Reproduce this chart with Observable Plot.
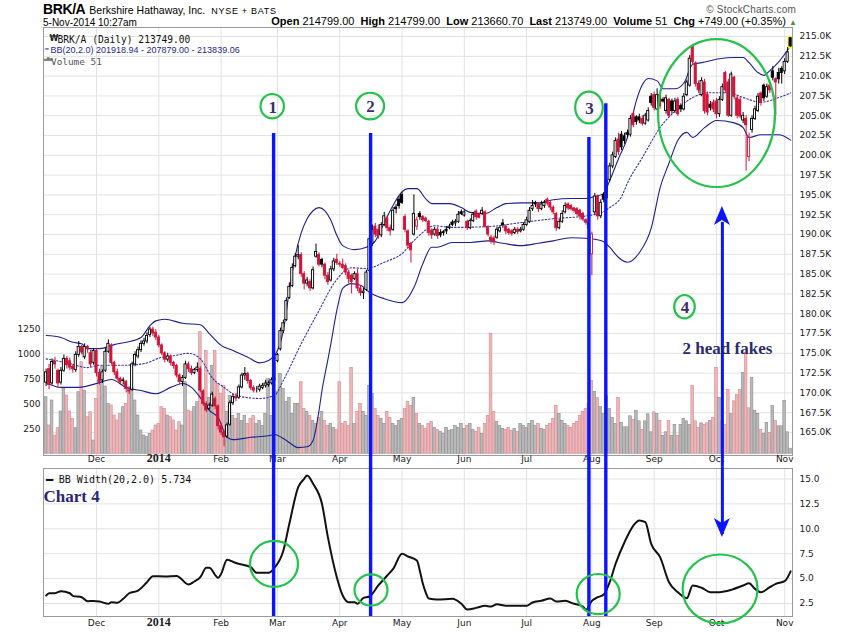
<!DOCTYPE html>
<html><head><meta charset="utf-8">
<script src="https://cdn.jsdelivr.net/npm/d3@7"></script>
<script src="https://cdn.jsdelivr.net/npm/@observablehq/plot@0.6"></script>
<style>
body{margin:0;background:#fff;width:850px;height:633px;overflow:hidden;font-family:"Liberation Sans",Arial,sans-serif;color:#000}
#hdr{position:relative;height:26px;width:850px;z-index:2}
#hdr div{position:absolute;white-space:nowrap}
.t1{left:43px;top:3px;font-size:14px;line-height:13px}
.t1 .sym{font-weight:bold;letter-spacing:-0.4px}
.t1 .nm{font-size:10.5px;margin-left:4px}
.t1 .ex{font-size:9px;letter-spacing:0.7px;margin-left:6px}
.cp{right:54px;top:5px;font-size:10px;line-height:10px;color:#555;letter-spacing:0.2px}
.dt{left:43px;top:18px;font-size:10px;line-height:9px}
.q{right:53px;top:17px;font-size:11px;line-height:9.5px}
.q .tri{color:#3f9a46;font-size:8px}
#price{position:relative;width:850px;height:441px}
#price svg{position:absolute;left:0;top:0}
#lower{width:850px;height:166px}
</style></head><body>
<div id="hdr">
 <div class="t1"><span class="sym">BRK/A</span><span class="nm">Berkshire Hathaway, Inc.</span><span class="ex">NYSE + BATS</span></div>
 <div class="cp">© StockCharts.com</div>
 <div class="dt">5-Nov-2014 10:27am</div>
 <div class="q"><b>Open</b> 214799.00&nbsp; <b>High</b> 214799.00&nbsp; <b>Low</b> 213660.70&nbsp; <b>Last</b> 213749.00&nbsp; <b>Volume</b> 51&nbsp; <b>Chg</b> +749.00 (+0.35%) <span class="tri">▲</span></div>
</div>
<div id="price"></div>
<div id="lower"></div>
<script>
// ---------- daily OHLC (thousands of $), Nov 6 2013 .. Nov 5 2014 ----------
const opens = [
171.3,173.0,171.2,173.9,172.8,171.3,172.8,174.3,174.0,173.3,172.9,174.8,175.8,174.5,175.8,175.0,173.8,
175.3,172.5,171.6,172.8,175.2,176.0,173.8,172.6,171.8,171.5,171.4,170.3,170.4,173.6,174.6,175.4,176.2,176.5,177.3,178.0,177.6,
177.0,176.0,175.0,174.2,174.6,173.8,173.4,172.2,171.4,171.9,173.6,173.0,172.5,172.9,173.0,170.2,168.6,168.0,168.4,169.2,168.3,
165.8,165.0,164.5,166.0,168.7,169.5,169.4,170.7,172.2,172.4,171.5,170.6,170.4,170.4,170.6,170.9,171.0,171.2,171.6,
174.0,175.5,177.8,179.2,182.0,183.5,186.0,187.2,187.4,185.0,183.8,184.0,183.2,187.2,187.4,186.8,186.2,184.8,184.2,185.6,186.8,
186.3,186.2,186.0,185.2,184.8,184.4,185.0,183.2,182.6,183.0,185.4,188.8,191.0,190.6,189.9,191.2,192.0,190.8,190.6,193.4,194.4,
195.0,192.2,190.4,188.8,190.0,191.0,192.6,192.2,192.0,191.6,190.5,190.0,190.6,190.2,190.3,190.6,190.8,191.5,191.4,191.6,192.8,
192.4,191.6,190.8,191.7,192.9,192.5,192.6,192.8,190.9,189.6,189.5,189.6,190.4,191.4,191.0,190.6,190.4,190.2,190.6,190.4,190.6,
191.2,191.6,193.2,194.0,193.8,193.2,193.6,194.4,194.0,193.4,192.6,190.8,191.6,192.8,193.8,193.6,193.3,193.2,193.0,192.6,191.8,191.5,
187.5,192.8,194.8,192.3,195.0,194.6,196.9,198.6,199.8,202.0,202.6,202.4,202.8,202.6,205.2,204.8,204.8,204.6,204.0,204.4,207.4,
207.6,205.8,207.6,207.0,205.6,207.0,206.8,205.6,207.0,206.2,205.8,207.6,208.8,213.8,211.6,209.0,207.6,209.2,207.6,206.4,206.6,
206.8,205.2,207.0,210.4,209.2,205.0,209.8,207.2,207.0,204.4,204.6,199.8,203.2,204.6,205.6,207.8,208.8,207.4,208.8,210.6,209.6,210.4,210.9,
210.6,211.8,214.799];
const highs = [
173.0,173.6,174.3,174.5,173.0,173.2,174.8,174.6,174.4,173.6,175.2,176.5,176.0,176.2,176.0,175.4,175.6,
175.5,173.0,172.9,175.6,176.7,176.2,174.0,173.0,172.0,171.9,171.6,170.8,173.9,175.2,175.8,176.6,176.9,177.6,178.3,178.3,178.0,
177.3,176.2,175.2,175.0,174.8,174.0,173.6,172.4,172.2,174.0,173.9,173.4,173.1,173.8,173.3,170.4,168.9,168.7,170.1,169.5,168.5,
166.2,165.3,166.2,169.0,169.8,169.9,171.0,172.5,173.2,172.6,171.7,170.9,170.8,171.1,171.2,171.6,171.5,171.9,174.4,
175.0,178.2,179.2,182.0,183.9,186.3,187.6,188.6,187.7,185.3,184.6,184.3,185.9,188.8,187.7,187.0,186.4,185.2,186.0,187.0,187.5,
186.6,186.9,186.3,185.5,185.0,185.3,185.6,183.5,183.2,185.5,189.8,191.2,191.4,191.2,191.5,192.8,192.3,191.2,193.4,193.8,194.8,
195.3,192.5,190.6,189.0,195.0,192.2,192.9,192.4,192.2,191.8,190.7,190.9,190.9,190.6,190.5,191.0,191.3,191.8,191.9,192.9,193.1,
193.0,191.8,192.0,192.8,193.1,192.7,193.4,193.0,191.1,189.9,189.8,190.9,191.1,191.9,191.2,190.8,190.6,190.9,190.9,190.9,191.5,
192.2,193.4,194.3,194.2,194.0,194.2,194.3,194.6,194.2,193.6,192.8,191.9,193.0,194.0,194.0,193.8,193.4,193.4,193.2,192.8,192.0,191.8,
190.3,195.2,195.0,194.4,195.3,197.2,199.0,200.4,202.2,202.8,203.0,202.8,203.2,205.0,205.6,205.0,205.2,205.0,205.3,206.0,207.8,
208.0,208.4,207.9,207.3,207.6,207.2,207.1,207.2,207.3,206.5,207.8,209.5,212.6,214.0,211.8,209.4,209.8,209.6,208.0,206.8,207.0,
207.2,207.4,209.0,210.6,209.6,210.5,210.0,207.5,207.3,205.4,205.0,202.8,205.0,206.2,207.8,208.0,209.0,209.0,209.0,211.2,209.8,211.0,211.2,
212.2,213.6,214.799];
const lows = [
170.8,170.4,171.0,173.0,170.6,171.0,172.6,173.0,172.8,172.5,172.6,174.5,174.8,174.2,175.0,173.2,173.5,
172.0,171.0,171.2,172.6,175.0,173.5,172.2,171.5,171.0,171.0,170.0,169.8,170.2,173.3,174.3,175.1,175.9,176.2,177.0,177.1,176.6,
175.7,174.7,173.8,173.9,173.4,173.0,171.9,171.0,170.8,171.7,172.6,172.2,172.3,172.6,170.0,168.3,167.5,167.8,168.2,167.9,165.3,
164.6,163.2,164.3,165.8,168.4,168.9,169.2,170.5,171.6,171.1,170.3,170.0,170.0,170.1,170.4,170.6,170.7,171.0,171.5,
173.8,175.3,177.5,179.0,181.8,183.3,185.8,186.8,184.6,183.0,183.4,182.8,183.0,187.0,185.9,185.8,184.3,183.6,184.0,185.3,186.1,
185.9,185.6,184.8,183.8,182.5,184.2,182.8,182.2,181.8,182.8,185.2,188.5,189.6,189.4,189.6,191.0,190.4,189.8,190.4,192.6,193.2,
193.8,190.2,188.2,186.4,189.8,190.5,191.8,191.5,191.5,189.8,189.4,189.8,189.4,189.6,189.8,190.0,190.6,191.0,191.0,191.4,192.4,
192.2,190.5,190.6,191.5,191.8,192.0,192.4,190.8,189.7,188.8,188.6,189.4,190.2,190.8,190.0,189.9,189.8,190.0,190.0,190.2,190.4,
191.0,191.4,192.9,193.4,192.8,193.0,193.3,193.6,193.0,192.5,190.4,190.6,191.4,192.6,193.0,193.0,192.7,192.3,191.8,191.6,191.2,190.4,
184.8,192.5,191.8,192.0,194.0,194.4,196.6,198.3,199.6,200.0,200.6,201.4,202.2,202.3,203.5,203.8,204.0,203.7,203.8,204.2,206.2,
205.6,205.6,205.8,206.6,205.2,204.8,205.2,205.3,204.9,205.4,205.6,207.4,208.6,211.4,208.6,207.8,207.4,205.2,205.0,205.6,205.4,
204.6,204.8,206.8,207.8,204.8,204.8,207.0,204.6,204.6,204.0,198.0,199.2,202.8,204.4,205.4,206.2,206.8,207.2,207.8,209.4,205.0,209.0,209.0,
210.2,211.6,213.6607];
const closes = [
172.6,171.0,173.9,173.6,171.2,172.8,174.3,173.5,173.2,173.0,174.8,175.8,175.1,175.8,175.5,173.6,175.3,
172.5,171.4,172.6,175.2,176.2,173.8,172.6,171.8,171.3,171.6,170.5,170.2,173.6,174.8,175.4,176.2,176.5,177.2,178.0,177.5,177.0,
176.0,175.0,174.2,174.6,173.8,173.4,172.2,171.4,171.9,173.6,173.0,172.5,172.9,173.2,170.3,168.6,167.8,168.4,169.8,168.3,165.8,
165.0,164.4,165.9,168.7,169.5,169.3,170.7,172.2,172.4,171.5,170.6,170.3,170.4,170.8,170.9,171.2,171.2,171.6,173.8,
174.8,177.8,178.8,181.6,183.4,185.8,187.2,187.4,185.0,183.8,184.2,183.2,185.5,187.8,186.2,186.2,184.8,184.0,185.6,186.6,186.4,
186.2,185.8,185.2,184.4,184.0,185.0,183.2,182.6,182.8,185.2,189.4,190.6,190.0,189.8,191.2,192.3,190.8,190.4,193.0,193.2,193.6,
194.0,190.6,188.6,188.0,192.6,191.8,192.2,191.8,191.7,190.2,189.9,190.6,189.8,189.9,190.2,190.4,191.0,191.2,191.6,192.5,192.6,
192.8,190.8,191.7,192.5,192.2,192.1,193.0,191.0,190.0,189.2,189.0,190.6,190.8,191.2,190.4,190.2,190.1,190.6,190.3,190.6,191.2,
191.8,193.0,193.6,193.8,193.2,193.8,194.0,193.9,193.4,192.8,190.8,191.6,192.6,193.6,193.3,193.2,193.0,192.6,192.3,191.9,191.5,190.8,
190.0,194.8,192.3,194.0,194.4,196.8,198.6,200.0,201.8,200.4,201.0,201.8,202.6,204.6,203.8,204.2,204.4,204.0,205.0,205.6,206.6,
206.0,207.6,206.2,206.8,207.2,205.0,205.6,206.8,205.2,205.8,207.4,209.2,212.2,211.8,209.0,208.2,209.4,205.6,205.4,206.0,205.8,
205.2,207.0,208.6,208.2,205.0,210.2,207.4,205.0,204.9,205.0,203.8,202.2,204.6,205.8,207.4,206.6,207.2,208.6,208.2,209.8,209.2,209.6,210.4,
211.8,213.0,213.749];
const volumes = [
566,283,533,183,256,423,650,583,423,350,256,616,916,633,366,416,133,
550,733,866,673,500,483,383,333,400,466,500,650,666,533,383,233,183,166,200,233,283,
300,466,450,383,366,333,233,316,283,716,433,416,466,516,1216,520,1030,560,880,1030,700,
600,680,420,580,380,350,400,330,380,300,350,380,300,330,280,400,750,380,750,
620,800,650,520,560,400,500,500,716,450,420,380,330,300,360,420,330,280,300,260,240,
716,300,320,280,860,300,420,500,420,380,680,600,450,380,350,300,420,360,300,280,330,
350,450,520,480,560,400,300,280,250,300,320,260,240,220,200,260,230,240,280,260,300,
250,280,300,240,220,260,200,300,380,1200,420,320,280,250,240,260,230,250,220,300,280,
260,300,330,280,300,250,240,280,300,350,480,400,330,300,280,260,300,320,380,420,450,500,
730,620,560,470,400,580,450,360,300,560,310,265,265,375,340,430,325,240,325,395,215,
415,400,330,180,215,330,180,290,180,290,350,325,290,680,325,260,305,290,305,330,
360,860,560,325,290,640,400,525,590,640,810,1010,455,760,430,400,240,200,310,210,
480,330,275,275,530,215,51];

// ---------- Bollinger Bands (20,2) ----------
const upperIdx = [0,5,9,12,14,18,23,27,32,35,37,40,46,52,55,59,63,68,72,75,78,80,82,84,86,88,90,92,94,96,98,100,104,108,111,114,117,120,122,125,128,130,136,140,143,148,152,155,160,166,171,177,182,185,188,190,193,196,199,201,203,206,208,212,215,218,221,227,232,235,237,240,242,244,247,251];
const upperVal = [177.25,177.0,176.4,176.2,175.6,175.6,176.1,176.4,177.0,178.5,179.1,179.3,178.8,178.6,177.5,176.0,175.35,174.5,173.8,174.1,175.35,177.9,182.9,187.3,190.2,192.0,193.0,193.4,193.0,191.8,189.9,188.6,188.1,188.4,189.2,191.5,193.7,195.4,195.8,195.8,194.5,193.9,193.9,193.4,192.8,192.65,193.4,193.9,194.0,194.0,194.4,194.55,194.55,194.8,195.2,196.8,199.6,202.25,206.9,208.9,209.7,209.4,208.4,208.4,209.1,211.5,211.7,212.2,212.35,212.35,211.7,210.45,210.1,210.7,211.8,213.84];
const midIdx = [0,7,14,18,27,33,39,43,48,52,56,60,63,68,72,77,80,86,92,97,103,108,114,120,125,131,137,149,160,171,183,188,190,194,196,201,207,213,218,224,230,235,241,247,251];
const midVal = [174.3,173.8,173.2,173.5,173.5,173.7,174.5,174.7,175.0,174.3,171.9,170.7,169.9,169.4,169.3,169.7,171.6,176.2,180.4,183.8,185.8,185.7,186.5,187.6,189.6,191.1,190.9,191.0,191.5,192.0,192.4,192.9,193.4,194.8,196.5,199.7,203.5,205.9,207.3,207.9,207.9,207.3,206.7,207.3,207.88];
const lowerIdx = [0,5,11,18,22,27,32,37,42,46,49,52,55,58,61,63,69,75,77,81,85,88,90,92,93,95,96,98,100,103,106,109,114,120,124,127,130,132,137,143,149,154,160,166,171,177,183,188,190,193,196,200,204,207,210,213,216,218,222,226,232,235,237,241,247,251];
const lowerVal = [171.3,170.7,170.7,171.3,171.7,170.7,170.3,169.9,170.7,171.2,170.7,169.4,167.8,166.9,164.4,164.1,164.4,164.6,164.75,164.0,163.1,163.2,164.0,167.75,170.3,174.2,176.2,180.4,183.2,183.8,183.6,182.7,181.9,181.4,183.3,186.3,188.4,188.4,189.0,189.0,189.2,188.9,188.6,188.9,189.2,189.6,189.5,189.1,188.4,187.1,186.5,187.7,190.8,195.9,199.0,201.9,202.9,202.25,203.5,204.4,204.1,203.5,202.25,202.6,202.6,201.92];

// ---------- BB Width (20,2.0) ----------
const bbwIdx = [0,1,3,5,8,9,12,14,16,18,21,22,24,26,28,31,34,36,40,44,48,50,52,54,55,58,59,61,64,69,71,75,77,80,82,85,87,88,90,93,95,98,100,102,104,105,107,109,112,115,117,120,122,125,126,127,128,129,132,137,140,142,145,148,150,152,155,158,162,164,167,170,172,175,178,181,182,184,186,188,190,192,195,198,200,202,204,207,210,213,216,218,221,224,227,231,235,237,239,241,244,246,249,251];
const bbwVal = [3.30,3.53,3.53,3.74,3.53,3.27,3.13,2.73,2.76,2.70,2.47,2.63,2.57,2.97,3.53,3.80,4.64,5.24,5.21,5.27,4.41,4.71,5.14,6.08,6.08,5.08,5.47,6.89,6.56,6.15,5.58,5.58,6.08,7.82,10.5,14.18,15.02,15.35,14.52,12.51,9.16,5.14,3.30,2.63,2.63,2.47,3.07,3.2,4.31,5.31,5.98,7.49,7.22,6.82,5.8,4.5,3.6,3.0,2.9,2.97,2.47,1.9,2.06,2.27,2.2,2.43,2.27,2.27,2.27,2.6,2.77,3.0,2.7,2.77,2.47,2.2,1.87,2.77,3.13,3.4,4.64,6.49,8.65,10.33,10.83,10.66,8.49,7.15,4.64,3.63,3.03,4.31,4.08,3.64,3.64,3.87,4.31,4.54,3.97,3.63,4.14,4.47,4.74,5.734];

// ---------- axes ----------
const monthIdx = [17,38,59,78,99,120,141,162,184,205,226,249];
const monthLabel = ["Dec","2014","Feb","Mar","Apr","May","Jun","Jul","Aug","Sep","Oct","Nov"];
const priceTicks = [165,167.5,170,172.5,175,177.5,180,182.5,185,187.5,190,192.5,195,197.5,200,202.5,205,207.5,210,212.5,215];
const volTicks = [250,500,750,1000,1250];
const bbwTicks = [2.5,5,7.5,10,12.5,15];

// ---------- annotations (data units: trading-day index, price K, BB width) ----------
const signalIdx = [76.7,109.4,183.0,188.7];
const signalTop = [202.75,202.75,202.25,206.5];
const ringIdx = [76.4,109.4,183.2,215.4,226.2];
const ringPrice = [206.14,206.16,205.97,180.82,205.28];
const ringRx = [3.94,4.72,4.65,3.47,19.72];
const ringRy = [1.54,1.68,2.0,1.48,9.34];
const ringText = ["1","2","3","4",""];
const lowRingIdx = [77.0,109.7,186.3,227.4];
const lowRingVal = [6.42,3.81,3.40,3.91];
const lowRingRx = [8.09,5.56,7.25,12.64];
const lowRingRy = [2.31,1.56,2.01,3.46];
const arrowIdx = 228.0, arrowTopPrice = 193.54, arrowBottomWidth = 9.13;

// ---------- build ----------
const RED = "#d2143a", NAVY = "#1f1f8c", BLUE = "#0a14ff", GREEN = "#22c34a", GRID = "#e2e2e2", FRAME = "#9a9a9a", TXT = "#1a1a1a";
const X_DOMAIN = [-0.88, 251.64];
const PRICE_DOMAIN = [162.10, 216.14];
const VOL_DOMAIN = [-17, 4263];
const BBW_DOMAIN = [1.195, 16.054];

const candles = closes.map((c, i) => {
  const up = i === 0 ? c >= opens[i] : c >= closes[i - 1];
  const col = up ? "#000000" : RED;
  return {i, o: opens[i], h: highs[i], l: lows[i], c, v: volumes[i], up, col, fill: c > opens[i] ? "#ffffff" : col};
});
const series = (idx, val) => idx.map((i, k) => ({i, v: val[k]}));
const months = monthIdx.map((i, k) => ({i, label: monthLabel[k]}));

function ellipseMark(list) {
  return (index, scales) => {
    const g = d3.create("svg:g");
    list.forEach(e => {
      const cx = scales.x(e.i), cy = scales.y(e.v);
      g.append("ellipse").attr("cx", cx).attr("cy", cy)
        .attr("rx", Math.abs(scales.x(e.i + e.ri) - cx))
        .attr("ry", Math.abs(scales.y(e.v + e.rv) - cy))
        .attr("fill", "none").attr("stroke", GREEN).attr("stroke-width", 2.2);
    });
    return g.node();
  };
}
function headMark(i, v, s) { // s=+1: points up, s=-1: points down
  return (index, scales) => {
    const x = scales.x(i), y = scales.y(v), h = 19, w = 8, n = 5;
    return d3.create("svg:path")
      .attr("d", `M${x},${y}L${x - w},${y + s * h}L${x},${y + s * (h - n)}L${x + w},${y + s * h}Z`)
      .attr("fill", BLUE).node();
  };
}

const base = {width: 850, marginLeft: 43, marginRight: 58, x: {domain: X_DOMAIN, axis: null}, color: {type: "identity"}};
const priceLayer = {...base, height: 441, marginTop: 1, marginBottom: 12};
const tstyle = {background: "transparent", fontFamily: "DejaVu Sans", fontSize: "9px"};

// layer 1: grid
const gridPlot = Plot.plot({...priceLayer, y: {domain: PRICE_DOMAIN, axis: null}, style: tstyle,
  marks: [Plot.ruleY(priceTicks, {stroke: GRID}), Plot.ruleX(monthIdx, {stroke: GRID})]});

// layer 2: volume
const volPlot = Plot.plot({...priceLayer, y: {domain: VOL_DOMAIN, axis: null}, style: tstyle,
  marks: [
    Plot.rect(candles, {x1: d => d.i - 0.46, x2: d => d.i + 0.46, y1: 0, y2: "v",
      fill: d => d.up ? "#b9b9b9" : "#ebb7ba", stroke: d => d.up ? "#8e8e8e" : "#d58b92", strokeWidth: 0.6}),
    Plot.text(volTicks, {y: d => d, text: d => String(d), frameAnchor: "left", dx: -3, textAnchor: "end", fill: TXT, fontSize: 9})
  ]});

// layer 3: price
const rings = ringIdx.map((i, k) => ({i, v: ringPrice[k], ri: ringRx[k], rv: ringRy[k], t: ringText[k]}));
const pricePlot = Plot.plot({...priceLayer, y: {domain: PRICE_DOMAIN, axis: null}, style: tstyle,
  marks: [
    Plot.line(series(upperIdx, upperVal), {x: "i", y: "v", stroke: NAVY, strokeWidth: 1.1, curve: "monotone-x"}),
    Plot.line(series(lowerIdx, lowerVal), {x: "i", y: "v", stroke: NAVY, strokeWidth: 1.1, curve: "monotone-x"}),
    Plot.line(series(midIdx, midVal), {x: "i", y: "v", stroke: "#3434a8", strokeWidth: 1.1, strokeDasharray: "1.5,2", curve: "monotone-x"}),
    Plot.rect([candles[candles.length - 1]], {x1: d => d.i - 0.85, x2: d => d.i + 0.85, y1: d => d.l - 0.25, y2: d => d.h + 0.25, fill: "#ffff00"}),
    Plot.ruleX(candles, {x: "i", y1: "l", y2: "h", stroke: "col", strokeWidth: 1}),
    Plot.rect(candles, {x1: d => d.i - 0.36, x2: d => d.i + 0.36, y1: "o", y2: "c", fill: "fill", stroke: "col", strokeWidth: 0.9}),
    Plot.frame({stroke: FRAME}),
    Plot.text(priceTicks, {y: d => d, text: d => d.toFixed(1) + "K", frameAnchor: "right", dx: 7, textAnchor: "start", fill: TXT, fontSize: 9}),
    Plot.text(months.filter(d => d.label !== "2014"), {x: "i", text: "label", frameAnchor: "bottom", dy: 6.5, fill: TXT, fontSize: 9}),
    Plot.text(months.filter(d => d.label === "2014"), {x: "i", text: "label", frameAnchor: "bottom", dy: 6.5, fill: TXT, fontSize: 12, fontWeight: "bold", fontFamily: "Liberation Serif"}),
    // legend
    Plot.text(["₩"], {frameAnchor: "top-left", dx: 6, dy: 8, text: d => d, fontSize: 8, fontWeight: "bold", fill: "#222"}),
    Plot.text(["BRK/A (Daily) 213749.00"], {frameAnchor: "top-left", dx: 14, dy: 8.5, textAnchor: "start", text: d => d, fontFamily: "DejaVu Sans Mono", fontSize: 9.6, fill: "#111"}),
    Plot.text(["━"], {frameAnchor: "top-left", dx: 1.5, dy: 19.6, textAnchor: "start", text: d => d, fontSize: 6, fill: NAVY}),
    Plot.text(["BB(20,2.0) 201918.94 - 207879.00 - 213839.06"], {frameAnchor: "top-left", dx: 7, dy: 19.6, textAnchor: "start", text: d => d, fontFamily: "Liberation Sans", fontSize: 9, fill: NAVY}),
    Plot.text(["▄▇▅"], {frameAnchor: "top-left", dx: 0.5, dy: 30, textAnchor: "start", text: d => d, fontSize: 3.5, fill: "#777"}),
    Plot.text(["Volume 51"], {frameAnchor: "top-left", dx: 7.5, dy: 30.5, textAnchor: "start", text: d => d, fontFamily: "DejaVu Sans Mono", fontSize: 9.4, fill: "#555"}),
    // signal lines
    Plot.ruleX(signalIdx.map((i, k) => ({i, top: signalTop[k]})), {x: "i", y1: "top", y2: 160.6, stroke: BLUE, strokeWidth: 3.4}),
    // arrow
    Plot.ruleX([arrowIdx], {x: d => d, y1: arrowTopPrice - 2, y2: 160.6, stroke: BLUE, strokeWidth: 3}),
    headMark(arrowIdx, arrowTopPrice, 1),
    // rings and labels
    ellipseMark(rings),
    Plot.text(rings.filter(d => d.t), {x: "i", y: "v", text: "t", fontFamily: "Liberation Serif", fontWeight: "bold", fontSize: 17, fill: "#3b2f68", dy: 0.5}),
    Plot.text(["2 head fakes"], {x: 229.7, y: 175.61, text: d => d, fontFamily: "Liberation Serif", fontWeight: "bold", fontSize: 17, fill: "#2c2a6c"})
  ]});

const holder = document.getElementById("price");
holder.append(gridPlot, volPlot, pricePlot);

// lower panel: BB Width
const lowRings = lowRingIdx.map((i, k) => ({i, v: lowRingVal[k], ri: lowRingRx[k], rv: lowRingRy[k]}));
const lowerPlot = Plot.plot({...base, height: 166, marginTop: 1, marginBottom: 17,
  y: {domain: BBW_DOMAIN, axis: null}, style: tstyle,
  marks: [
    Plot.ruleY(bbwTicks, {stroke: GRID}),
    Plot.ruleX(monthIdx, {stroke: GRID}),
    Plot.line(series(bbwIdx, bbwVal), {x: "i", y: "v", stroke: "#111", strokeWidth: 2, curve: "monotone-x"}),
    Plot.frame({stroke: FRAME}),
    Plot.text(bbwTicks, {y: d => d, text: d => d.toFixed(1), frameAnchor: "right", dx: 7, textAnchor: "start", fill: TXT, fontSize: 9}),
    Plot.text(months.filter(d => d.label !== "2014"), {x: "i", text: "label", frameAnchor: "bottom", dy: 9, fill: TXT, fontSize: 9}),
    Plot.text(months.filter(d => d.label === "2014"), {x: "i", text: "label", frameAnchor: "bottom", dy: 9, fill: TXT, fontSize: 12, fontWeight: "bold", fontFamily: "Liberation Serif"}),
    Plot.text(["━"], {frameAnchor: "top-left", dx: 2.5, dy: 7, textAnchor: "start", text: d => d, fontSize: 12, fill: "#111"}),
    Plot.text(["BB Width(20,2.0) 5.734"], {frameAnchor: "top-left", dx: 15.3, dy: 7, textAnchor: "start", text: d => d, fontFamily: "DejaVu Sans Mono", fontSize: 10, fill: "#111"}),
    Plot.text(["Chart 4"], {frameAnchor: "top-left", dx: 0, dy: 21, textAnchor: "start", text: d => d, fontFamily: "Liberation Serif", fontWeight: "bold", fontSize: 17, fill: "#2a2575"}),
    Plot.ruleX(signalIdx, {x: d => d, y1: 16.2, y2: BBW_DOMAIN[0], stroke: BLUE, strokeWidth: 3.4}),
    Plot.ruleX([arrowIdx], {x: d => d, y1: 16.2, y2: arrowBottomWidth + 0.3, stroke: BLUE, strokeWidth: 3}),
    headMark(arrowIdx, arrowBottomWidth, -1),
    ellipseMark(lowRings)
  ]});
document.getElementById("lower").append(lowerPlot);
</script>
</body></html>
